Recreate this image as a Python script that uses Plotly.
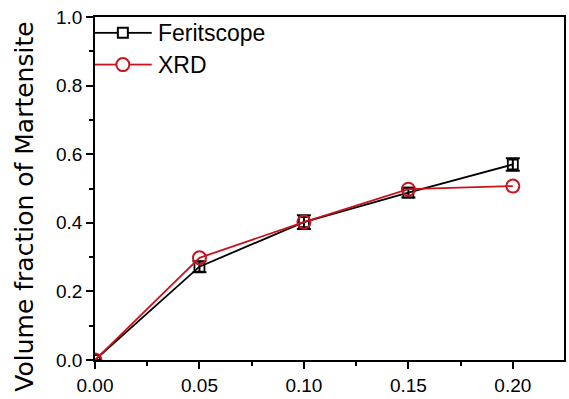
import plotly.graph_objects as go

# Strain levels and measured martensite fractions
strain = [0.00, 0.05, 0.10, 0.15, 0.20]
feritscope = [0.00, 0.272, 0.402, 0.488, 0.570]
feritscope_err = [0.0, 0.016, 0.020, 0.014, 0.018]
xrd = [0.00, 0.298, 0.402, 0.498, 0.507]

x_ticks = [0.00, 0.05, 0.10, 0.15, 0.20]
x_tick_labels = ["0.00", "0.05", "0.10", "0.15", "0.20"]
y_ticks = [0.0, 0.2, 0.4, 0.6, 0.8, 1.0]
y_tick_labels = ["0.0", "0.2", "0.4", "0.6", "0.8", "1.0"]

series_names = ["Feritscope", "XRD"]

RED = "#c8141e"
FONT = "Liberation Sans, Arial, sans-serif"

fig = go.Figure()

fig.add_trace(go.Scatter(
    x=strain, y=feritscope, name=series_names[0],
    mode="lines+markers",
    line=dict(color="black", width=1.8),
    marker=dict(symbol="square-open", size=10, color="black",
                line=dict(width=1.8, color="black")),
    error_y=dict(type="data", array=feritscope_err, visible=True,
                 color="black", thickness=2, width=7),
))

fig.add_trace(go.Scatter(
    x=strain, y=xrd, name=series_names[1],
    mode="lines+markers",
    line=dict(color=RED, width=1.8),
    marker=dict(symbol="circle-open", size=13, color=RED,
                line=dict(width=2, color=RED)),
))

axis_common = dict(
    showline=True, linecolor="black", linewidth=1.6, mirror=True,
    ticks="outside", ticklen=7, tickwidth=1.5, tickcolor="black",
    showgrid=False, zeroline=False,
    tickfont=dict(family=FONT, size=19, color="black"),
)

fig.update_xaxes(
    range=[0, 0.2245], tickvals=x_ticks, ticktext=x_tick_labels,
    minor=dict(ticks="outside", ticklen=4, tickwidth=1.5, tickcolor="black",
               dtick=0.025, tick0=0, showgrid=False),
    **axis_common,
)
fig.update_yaxes(
    range=[0, 1.0], tickvals=y_ticks, ticktext=y_tick_labels,
    minor=dict(ticks="outside", ticklen=4, tickwidth=1.5, tickcolor="black",
               dtick=0.1, tick0=0, showgrid=False),
    **axis_common,
)

# Legend block in the top-left corner: line sample with marker, then label
shapes = []
annotations = []
rows = [
    dict(y=0.9538, color="black", symbol="rect", half=5),
    dict(y=0.8613, color=RED, symbol="circle", half=6.5),
]
mx = 0.0594   # marker centre (paper x)
for name, row in zip(series_names, rows):
    c = row["color"]
    h = row["half"]
    # line pieces on either side of the marker
    shapes.append(dict(type="line", xref="paper", yref="paper",
                       x0=0, x1=mx, y0=row["y"], y1=row["y"],
                       xsizemode="scaled", line=dict(color=c, width=1.8),
                       layer="below"))
    shapes.append(dict(type="line", xref="paper", yref="paper",
                       x0=mx, x1=0.121, y0=row["y"], y1=row["y"],
                       line=dict(color=c, width=1.8), layer="below"))
    shapes.append(dict(type=row["symbol"], xref="paper", yref="paper",
                       xsizemode="pixel", ysizemode="pixel",
                       xanchor=mx, yanchor=row["y"],
                       x0=-h, x1=h, y0=-h, y1=h,
                       fillcolor="white", line=dict(color=c, width=2)))
    annotations.append(dict(text=name, xref="paper", yref="paper",
                            x=0.131, y=row["y"], xanchor="left",
                            yanchor="middle", showarrow=False,
                            font=dict(family=FONT, size=23, color="black")))

# Y axis title
annotations.append(dict(text="Volume fraction of Martensite",
                        xref="paper", yref="paper", x=0, y=0.447,
                        xanchor="center", yanchor="middle", xshift=-70,
                        textangle=-90, showarrow=False,
                        font=dict(family="DejaVu Sans, sans-serif", size=25,
                                  color="black")))

fig.update_layout(
    width=569, height=399,
    margin=dict(l=95, r=3, t=17, b=36),
    paper_bgcolor="white", plot_bgcolor="white",
    showlegend=False,
    shapes=shapes,
    annotations=annotations,
)

fig.write_html("out.html")
